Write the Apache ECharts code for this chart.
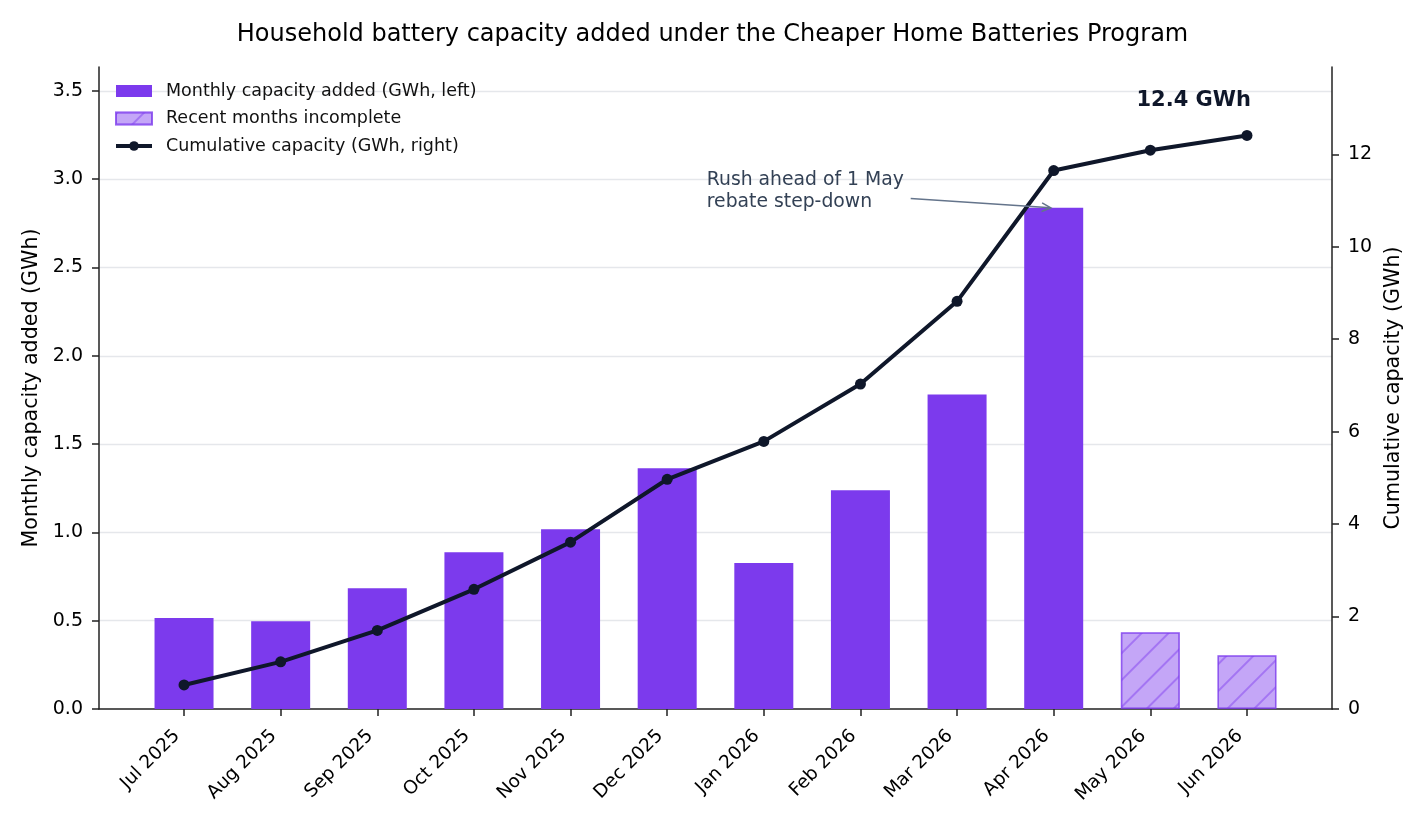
<!DOCTYPE html>
<html>
<head>
<meta charset="utf-8">
<script src="https://cdn.jsdelivr.net/npm/echarts@6/dist/echarts.min.js"></script>
<style>
html,body{margin:0;padding:0;background:#fff;}
#chart{width:1425px;height:825px;}
</style>
</head>
<body>
<div id="chart"></div>
<script>
var months = ['Jul 2025','Aug 2025','Sep 2025','Oct 2025','Nov 2025','Dec 2025',
	'Jan 2026','Feb 2026','Mar 2026','Apr 2026','May 2026','Jun 2026'];
// monthly additions, GWh (left axis)
var monthly = [0.515, 0.497, 0.684, 0.888, 1.018, 1.363, 0.826, 1.238, 1.781, 2.838, 0.435, 0.305];
// last two months still being reported
var incompleteFrom = 10;
// running total, GWh (right axis)
var cumulative = [0.52, 1.02, 1.70, 2.59, 3.61, 4.97, 5.79, 7.03, 8.82, 11.65, 12.09, 12.41];
var leftTicks = [0, 0.5, 1, 1.5, 2, 2.5, 3, 3.5];
var rightTicks = [0, 2, 4, 6, 8, 10, 12];

var FONT = 'DejaVu Sans';
var chartObj = echarts.init(document.getElementById('chart'));

var fullBars = [], partBars = [], linePts = [], xIdx = [];
for (var i = 0; i < months.length; i++) {
	xIdx.push(i);
	if (i < incompleteFrom) fullBars.push([i, monthly[i]]);
	else partBars.push([i, monthly[i]]);
	linePts.push([i, cumulative[i]]);
}

var hatch = {
	symbol: 'rect', symbolSize: 1,
	dashArrayX: [1, 0], dashArrayY: [1.5, 17],
	rotation: -Math.PI / 4,
	color: 'rgba(124,58,237,0.45)'
};

var option = {
	animation: false,
	textStyle: {fontFamily: FONT},
	title: {
		text: 'Household battery capacity added under the Cheaper Home Batteries Program',
		left: 'center', top: 18,
		textStyle: {fontFamily: FONT, fontSize: 24, fontWeight: 'normal', color: '#000'}
	},
	legend: {
		left: 114, top: 82, orient: 'vertical', padding: 0,
		itemWidth: 36, itemHeight: 12, itemGap: 9.5,
		textStyle: {fontFamily: FONT, fontSize: 17.5, color: '#111', padding: [0, 0, 0, 9]},
		data: [
			{name: 'Monthly capacity added (GWh, left)', icon: 'rect'},
			{name: 'Recent months incomplete', icon: 'rect'},
			{name: 'Cumulative capacity (GWh, right)', lineStyle: {width: 4}}
		]
	},
	grid: {left: 99, right: 93, top: 67, bottom: 116, containLabel: false},
	xAxis: {
		type: 'value', min: -0.88, max: 11.88,
		axisLine: {onZero: false, lineStyle: {color: '#222', width: 1.5}},
		axisTick: {show: true, length: 7, customValues: xIdx, lineStyle: {color: '#222', width: 1.5}},
		axisLabel: {
			customValues: xIdx, rotate: 45, fontSize: 18.5, color: '#000', margin: 17,
			padding: [0, 10, 0, 0],
			formatter: function (v) { return months[Math.round(v)]; }
		},
		splitLine: {show: false}
	},
	yAxis: [
		{
			type: 'value', min: 0, max: 3.635,
			name: 'Monthly capacity added (GWh)', nameLocation: 'middle', nameGap: 56,
			nameTextStyle: {fontFamily: FONT, fontSize: 20.6, color: '#000'},
			axisLine: {show: true, onZero: false, lineStyle: {color: '#222', width: 1.5}},
			axisTick: {show: true, length: 7, customValues: leftTicks, lineStyle: {color: '#222', width: 1.5}},
			axisLabel: {customValues: leftTicks, fontSize: 19, color: '#000', margin: 16,
				formatter: function (v) { return v.toFixed(1); }},
			splitLine: {show: false}
		},
		{
			type: 'value', min: 0, max: 13.89,
			name: 'Cumulative capacity (GWh)', nameLocation: 'middle', nameGap: 51,
			nameTextStyle: {fontFamily: FONT, fontSize: 20.6, color: '#000'},
			axisLine: {show: true, onZero: false, lineStyle: {color: '#222', width: 1.5}},
			axisTick: {show: true, length: 7, customValues: rightTicks, lineStyle: {color: '#222', width: 1.5}},
			axisLabel: {customValues: rightTicks, fontSize: 19, color: '#000', margin: 16},
			splitLine: {show: false}
		}
	],
	series: [
		{
			name: 'Monthly capacity added (GWh, left)', type: 'bar',
			yAxisIndex: 0, barWidth: 59, barGap: '-100%',
			itemStyle: {color: '#7c3aed'},
			data: fullBars,
			markLine: {
				silent: true, symbol: 'none', label: {show: false},
				lineStyle: {color: '#e5e7eb', width: 1.3, type: 'solid'},
				data: leftTicks.slice(1).map(function (t) { return {yAxis: t}; }),
				z: 0
			},
			z: 2
		},
		{
			name: 'Recent months incomplete', type: 'bar',
			yAxisIndex: 0, barWidth: 59, barGap: '-100%',
			itemStyle: {
				color: 'rgba(124,58,237,0.45)',
				borderColor: 'rgba(124,58,237,0.55)', borderWidth: 1.5,
				decal: hatch
			},
			data: partBars,
			z: 2
		},
		{
			name: 'Cumulative capacity (GWh, right)', type: 'line',
			yAxisIndex: 1,
			symbol: 'circle', symbolSize: 11,
			lineStyle: {color: '#0f172a', width: 4},
			itemStyle: {color: '#0f172a'},
			data: linePts,
			z: 5
		}
	]
};
chartObj.setOption(option);

// annotations placed in data space
var last = months.length - 1;
var pTotal = chartObj.convertToPixel({xAxisIndex: 0, yAxisIndex: 1}, [last, cumulative[last]]);
var peak = 9;
var arrEnd = chartObj.convertToPixel({xAxisIndex: 0, yAxisIndex: 0}, [peak - 0.03, monthly[peak]]);
var arrStart = chartObj.convertToPixel({xAxisIndex: 0, yAxisIndex: 0}, [7.52, 2.89]);
var txtPos = chartObj.convertToPixel({xAxisIndex: 0, yAxisIndex: 0}, [5.41, 2.93]);
var ang = Math.atan2(arrEnd[1] - arrStart[1], arrEnd[0] - arrStart[0]);
var hl = 10, hw = 0.45;
var head = [
	[arrEnd[0] - hl * Math.cos(ang - hw), arrEnd[1] - hl * Math.sin(ang - hw)],
	arrEnd,
	[arrEnd[0] - hl * Math.cos(ang + hw), arrEnd[1] - hl * Math.sin(ang + hw)]
];
chartObj.setOption({
	graphic: [
		{
			type: 'text', x: pTotal[0] + 4, y: pTotal[1] - 35, z: 10,
			style: {text: cumulative[last].toFixed(1) + ' GWh', fill: '#0f172a',
				font: 'bold 21px "DejaVu Sans"', textAlign: 'right', textVerticalAlign: 'middle'}
		},
		{
			type: 'text', x: txtPos[0], y: txtPos[1], z: 10,
			style: {text: 'Rush ahead of 1 May\nrebate step-down', fill: '#334155',
				font: '18.8px "DejaVu Sans"', lineHeight: 22, textAlign: 'left', textVerticalAlign: 'middle'}
		},
		{
			type: 'line', z: 10,
			shape: {x1: arrStart[0], y1: arrStart[1], x2: arrEnd[0], y2: arrEnd[1]},
			style: {stroke: '#64748b', lineWidth: 1.5}
		},
		{
			type: 'polyline', z: 10,
			shape: {points: head},
			style: {stroke: '#64748b', lineWidth: 1.5, fill: null}
		}
	]
});
</script>
</body>
</html>
